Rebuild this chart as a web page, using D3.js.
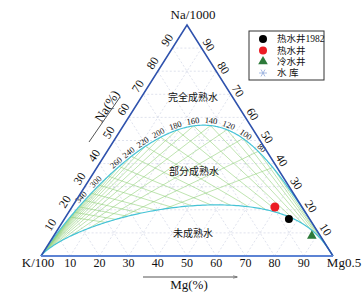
<!DOCTYPE html>
<html>
<head>
<meta charset="utf-8">
<script src="https://cdn.jsdelivr.net/npm/d3@7"></script>
<style>
  body { margin: 0; background: #fff; }
  text { font-family: "Liberation Serif", "Times New Roman", serif; fill: #111; }
  .cjk { font-family: "Liberation Serif", "Noto Sans CJK SC", serif; }
</style>
</head>
<body>
<svg id="chart" width="363" height="296"></svg>
<script>
// tick values on the three sides
const naTicks = [10, 20, 30, 40, 50, 60, 70, 80, 90];
const mgTicks = [10, 20, 30, 40, 50, 60, 70, 80, 90];
// temperatures written along the full equilibrium line
const tempLabels = [340, 300, 260, 240, 220, 200, 180, 160, 140, 120, 100, 80];
// temperatures of the green isotherm lines
const tempLines = [400, 380, 360, 340, 320, 300, 280, 260, 240, 220, 200, 180, 160, 140, 120, 100, 80, 60];
// samples, [Na%, K%, Mg%]
const hot1982 = [[16.0, 7.1, 76.9]];
const hotWell = [[21.2, 9.3, 69.5]];
const coldWell = [[8.7, 2.9, 88.4]];
const reservoir = [];
const legendNames = ['热水井1982', '热水井', '冷水井', '水 库'];
const zoneNames = ['完全成熟水', '部分成熟水', '未成熟水'];

const svg = d3.select('#chart');

// ternary frame: K/100 left, Mg0.5 right, Na/1000 top
const xScale = d3.scaleLinear().domain([0, 1]).range([41, 333]);
const yScale = d3.scaleLinear().domain([0, 1]).range([256, 25]);
const proj = (na, k, mg) => {
    const s = na + k + mg;
    return [xScale((mg + na / 2) / s), yScale(na / s)];
};
const K = proj(0, 1, 0), M = proj(0, 0, 1), N = proj(1, 0, 0);

// Giggenbach (1988): Na-K and K-Mg geothermometers
const fullEq = t => {
    const T = t + 273.15;
    const naK = Math.pow(10, 1390 / T - 1.75);
    const k2mg = Math.pow(10, 14.0 - 4410 / T);
    return proj(naK / 1000, 0.01, 1 / Math.sqrt(k2mg));
};
// immature boundary, maturity index = 2.0
const immature = c => proj(0.5495 * Math.pow(c, 0.63), 1, c);

const upper = [K];
for (let t = 700; t >= -80; t -= 1) upper.push(fullEq(t));
upper.push(M);
const lower = [K];
for (let e = -6; e <= 6; e += 0.02) lower.push(immature(Math.pow(10, e)));
lower.push(M);

const line = d3.line();

// faint 10% grid
const grid = svg.append('g').attr('stroke', '#c9cfe0').attr('stroke-width', 0.6)
    .attr('stroke-dasharray', '2,2').attr('fill', 'none');
naTicks.forEach(v => {
    const f = v / 100;
    grid.append('path').attr('d', line([proj(f, 1 - f, 0), proj(f, 0, 1 - f)]));
    grid.append('path').attr('d', line([proj(0, 1 - f, f), proj(1 - f, 0, f)]));
    grid.append('path').attr('d', line([proj(0, f, 1 - f), proj(1 - f, f, 0)]));
});

// green isotherms, kept between the two curves
svg.append('clipPath').attr('id', 'partial')
    .append('path').attr('d', line(upper.concat(lower.slice().reverse())) + 'Z');
const iso = svg.append('g').attr('clip-path', 'url(#partial)')
    .attr('stroke', '#93d27c').attr('stroke-width', 0.6).attr('fill', 'none');
tempLines.forEach(t => {
    const p = fullEq(t);
    iso.append('path').attr('d', line([K, p]));
    iso.append('path').attr('d', line([M, p]));
});

// equilibrium curves
svg.append('path').attr('d', line(upper)).attr('fill', 'none')
    .attr('stroke', '#45c3d6').attr('stroke-width', 1.2);
svg.append('path').attr('d', line(lower)).attr('fill', 'none')
    .attr('stroke', '#45c3d6').attr('stroke-width', 1.2);

// temperature labels along the upper curve
tempLabels.forEach(t => {
    const a = fullEq(t + 1), b = fullEq(t - 1), p = fullEq(t);
    const dx = b[0] - a[0], dy = b[1] - a[1], len = Math.hypot(dx, dy);
    const nx = dy / len, ny = -dx / len;
    const ang = Math.atan2(dy, dx) * 180 / Math.PI;
    svg.append('text')
        .attr('transform', `translate(${p[0] + nx * 5},${p[1] + ny * 5}) rotate(${ang})`)
        .attr('text-anchor', 'middle').attr('dy', '0.35em')
        .attr('font-size', 8.5).text(t);
});

// triangle sides
svg.append('path').attr('d', line([K, N, M])).attr('fill', 'none')
    .attr('stroke', '#2f52ad').attr('stroke-width', 1.5);
svg.append('path').attr('d', line([K, M])).attr('fill', 'none')
    .attr('stroke', '#5c83d4').attr('stroke-width', 2);

// side tick labels
const angL = Math.atan2(N[1] - K[1], N[0] - K[0]) * 180 / Math.PI;
const angR = Math.atan2(N[1] - M[1], N[0] - M[0]) * 180 / Math.PI + 180;
const unit = (a, b) => { const l = Math.hypot(b[0] - a[0], b[1] - a[1]); return [(b[0] - a[0]) / l, (b[1] - a[1]) / l]; };
const tL = unit(K, N), tR = unit(M, N);
naTicks.forEach(v => {
    const f = v / 100;
    const p = proj(f, 1 - f, 0);
    svg.append('text')
        .attr('transform', `translate(${p[0] + tL[1] * 9 + tL[0] * 4},${p[1] - tL[0] * 9 + tL[1] * 4}) rotate(${angL})`)
        .attr('text-anchor', 'middle').attr('dy', '0.35em').attr('font-size', 12).text(v);
    const q = proj(f, 0, 1 - f);
    svg.append('text')
        .attr('transform', `translate(${q[0] - tR[1] * 8 - tR[0] * 1},${q[1] + tR[0] * 8 - tR[1] * 1}) rotate(${angR})`)
        .attr('text-anchor', 'middle').attr('dy', '0.35em').attr('font-size', 12).text(v);
});
mgTicks.forEach(v => {
    svg.append('text').attr('x', xScale(v / 100)).attr('y', 267)
        .attr('text-anchor', 'middle').attr('font-size', 12).text(v);
});

// corner labels
svg.append('text').attr('x', 38).attr('y', 267).attr('text-anchor', 'middle').attr('font-size', 13).text('K/100');
svg.append('text').attr('x', 344).attr('y', 267).attr('text-anchor', 'middle').attr('font-size', 13).text('Mg0.5');
svg.append('text').attr('x', 193).attr('y', 19).attr('text-anchor', 'middle').attr('font-size', 13).text('Na/1000');

// axis titles with arrows
const defs = svg.append('defs');
defs.append('marker').attr('id', 'arr').attr('viewBox', '0 0 10 10').attr('refX', 9).attr('refY', 5)
    .attr('markerWidth', 5).attr('markerHeight', 5).attr('orient', 'auto')
    .append('path').attr('d', 'M0,2L10,5L0,8').attr('fill', 'none').attr('stroke', '#555');
svg.append('text').attr('x', 189).attr('y', 289).attr('text-anchor', 'middle').attr('font-size', 13).text('Mg(%)');
svg.append('line').attr('x1', 143).attr('y1', 277).attr('x2', 237).attr('y2', 277)
    .attr('stroke', '#555').attr('stroke-width', 1).attr('marker-end', 'url(#arr)');
svg.append('text').attr('transform', `translate(107,106) rotate(${angL})`)
    .attr('text-anchor', 'middle').attr('dy', '0.35em').attr('font-size', 13).text('Na(%)');
svg.append('line').attr('x1', 89).attr('y1', 142).attr('x2', 120).attr('y2', 97)
    .attr('stroke', '#555').attr('stroke-width', 1);

// zone names
[[193, 97], [194, 171], [193, 233]].forEach((c, i) => {
    svg.append('text').attr('class', 'cjk').attr('x', c[0]).attr('y', c[1])
        .attr('text-anchor', 'middle').attr('dy', '0.35em').attr('font-size', 10).text(zoneNames[i]);
});

// samples
const pts = svg.append('g');
hot1982.forEach(d => {
    const p = proj(d[0], d[1], d[2]);
    pts.append('circle').attr('cx', p[0]).attr('cy', p[1]).attr('r', 4).attr('fill', '#000');
});
hotWell.forEach(d => {
    const p = proj(d[0], d[1], d[2]);
    pts.append('circle').attr('cx', p[0]).attr('cy', p[1]).attr('r', 4.5).attr('fill', '#ec1c24');
});
coldWell.forEach(d => {
    const p = proj(d[0], d[1], d[2]);
    pts.append('path').attr('transform', `translate(${p[0]},${p[1]})`)
        .attr('d', d3.symbol(d3.symbolTriangle, 40)).attr('fill', '#2d7a3a');
});
const star = (g, x, y) => {
    [0, 60, 120].forEach(a => {
        const r = a * Math.PI / 180;
        g.append('line').attr('x1', x - 4 * Math.cos(r)).attr('y1', y - 4 * Math.sin(r))
            .attr('x2', x + 4 * Math.cos(r)).attr('y2', y + 4 * Math.sin(r))
            .attr('stroke', '#8fa9dc').attr('stroke-width', 0.8);
    });
};
reservoir.forEach(d => { const p = proj(d[0], d[1], d[2]); star(pts, p[0], p[1]); });

// legend
const lg = svg.append('g');
lg.append('rect').attr('x', 249).attr('y', 31).attr('width', 75).attr('height', 49)
    .attr('fill', '#fff').attr('stroke', '#333').attr('stroke-width', 1);
const ly = [39, 50.5, 61.5, 73];
lg.append('circle').attr('cx', 263).attr('cy', ly[0]).attr('r', 4).attr('fill', '#000');
lg.append('circle').attr('cx', 263).attr('cy', ly[1]).attr('r', 4).attr('fill', '#ec1c24');
lg.append('path').attr('transform', `translate(263,${ly[2]})`)
    .attr('d', d3.symbol(d3.symbolTriangle, 40)).attr('fill', '#2d7a3a');
star(lg, 263, ly[3]);
legendNames.forEach((n, i) => {
    lg.append('text').attr('class', 'cjk').attr('x', 277).attr('y', ly[i])
        .attr('dy', '0.35em').attr('font-size', 9.5).text(n);
});
</script>
</body>
</html>
